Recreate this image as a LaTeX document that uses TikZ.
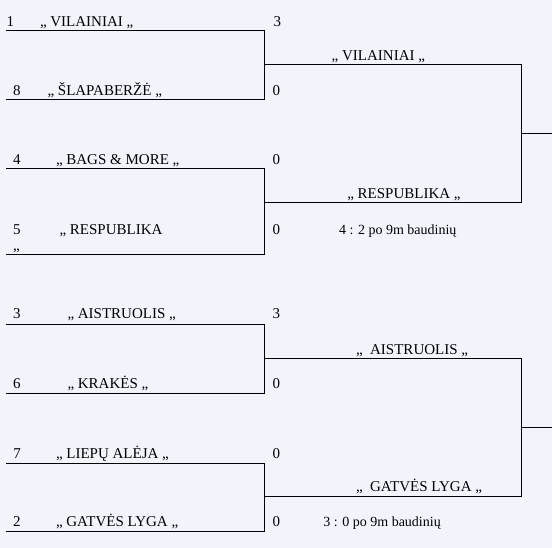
\documentclass[tikz,border=0pt]{standalone}
\usepackage{fontspec}
\setmainfont{Liberation Serif}
\definecolor{bgc}{RGB}{241,245,251}
\begin{document}
\begin{tikzpicture}[x=0.75pt,y=-0.75pt,
  txt/.style={anchor=base west,inner sep=0pt,outer sep=0pt,font=\fontsize{11.25}{13}\selectfont},
  note/.style={txt,font=\fontsize{10.5}{12}\selectfont},
  ln/.style={line width=0.75pt,black}]
\fill[bgc] (0,0) rectangle (552,548);
\useasboundingbox (0,0) rectangle (552,548);
% bracket corners
\coordinate (a1) at (6,31);  \coordinate (a2) at (264,31);
\coordinate (a3) at (264,100); \coordinate (a4) at (6,100);
\coordinate (b1) at (6,169); \coordinate (b2) at (264,169);
\coordinate (b3) at (264,255); \coordinate (b4) at (6,255);
\coordinate (c1) at (6,324); \coordinate (c2) at (264,324);
\coordinate (c3) at (264,393); \coordinate (c4) at (6,393);
\coordinate (d1) at (6,463); \coordinate (d2) at (264,463);
\coordinate (d3) at (264,531); \coordinate (d4) at (6,531);
% semifinal
\coordinate (s1a) at (264,65);  \coordinate (s1b) at (521,65);
\coordinate (s1c) at (521,203); \coordinate (s1d) at (264,203);
\coordinate (s1o) at (521,134); \coordinate (s1e) at (552,134);
\coordinate (s2a) at (264,358); \coordinate (s2b) at (521,358);
\coordinate (s2c) at (521,496); \coordinate (s2d) at (264,496);
\coordinate (s2o) at (521,427); \coordinate (s2e) at (552,427);
\draw[ln] (a1)--(a2)--(a3)--(a4);
\draw[ln] (b1)--(b2)--(b3)--(b4);
\draw[ln] (c1)--(c2)--(c3)--(c4);
\draw[ln] (d1)--(d2)--(d3)--(d4);
\draw[ln] (s1a)--(s1b)--(s1c)--(s1d);
\draw[ln] (s1o)--(s1e);
\draw[ln] (s2a)--(s2b)--(s2c)--(s2d);
\draw[ln] (s2o)--(s2e);
% first column texts
\node[txt] (n1) at (6.5,26.7) {1};
\node[txt] (t1) at (40,26.7) {„ VILAINIAI „};
\node[txt] (r1) at (273.5,26.7) {3};
\node[txt] (n8) at (13,95.7) {8};
\node[txt] (t8) at (47.5,95.7) {„ ŠLAPABERŽĖ „};
\node[txt] (r8) at (272.5,95.7) {0};
\node[txt] (n4) at (13,165) {4};
\node[txt] (t4) at (56,165) {„ BAGS \& MORE „};
\node[txt] (r4) at (272.5,165) {0};
\node[txt] (n5) at (13,234.3) {5};
\node[txt] (t5) at (59.5,234.3) {„ RESPUBLIKA};
\node[txt] (q5) at (13,251) {„};
\node[txt] (r5) at (272.5,234.3) {0};
\node[txt] (n3) at (13,319) {3};
\node[txt] (t3) at (67.5,319) {„ AISTRUOLIS „};
\node[txt] (r3) at (272.5,319) {3};
\node[txt] (n6) at (13,388.3) {6};
\node[txt] (t6) at (67.5,388.3) {„ KRAKĖS „};
\node[txt] (r6) at (272.5,388.3) {0};
\node[txt] (n7) at (13.5,458.3) {7};
\node[txt] (t7) at (56,458.3) {„ LIEPŲ ALĖJA „};
\node[txt] (r7) at (272.5,458.3) {0};
\node[txt] (n2) at (13,526.7) {2};
\node[txt] (t2) at (56,526.7) {„ GATVĖS LYGA „};
\node[txt] (r2) at (272.5,526.7) {0};
% second column texts
\node[txt] (w1) at (331.7,60.7) {„ VILAINIAI „};
\node[txt] (w2) at (347.3,198.3) {„ RESPUBLIKA „};
\node[note] (p1) at (339,234.3) {4 : 2 po 9m baudinių};
\node[txt] (w3) at (356,354) {„~~AISTRUOLIS „};
\node[txt] (w4) at (356,491.7) {„~~GATVĖS LYGA „};
\node[note] (p2) at (323.3,526.7) {3 : 0 po 9m baudinių};
\end{tikzpicture}
\end{document}
